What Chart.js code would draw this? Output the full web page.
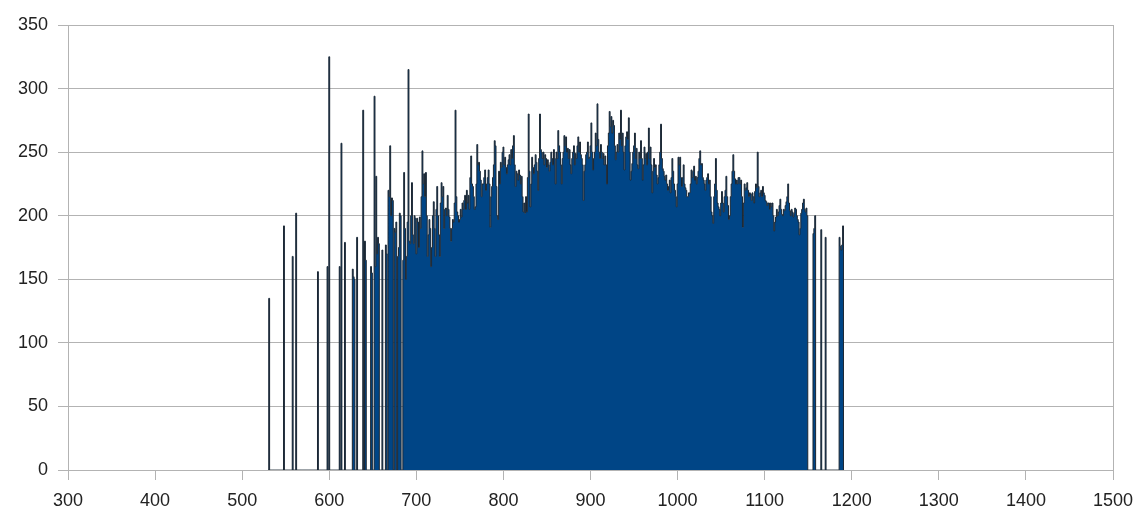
<!DOCTYPE html>
<html>
<head>
<meta charset="utf-8">
<script src="https://cdn.jsdelivr.net/npm/chart.js@4"></script>
<style>
  html, body { margin: 0; padding: 0; background: #fff; }
  #wrap { width: 1134px; height: 514px; position: relative; }
</style>
</head>
<body>
<div id="wrap"><canvas id="chart"></canvas></div>
<script>
// histogram counts, one per unit starting at firstBin
const firstBin = 530;
const counts = [
  0, 135, 0, 0, 0, 0, 0, 0, 0, 0,
  0, 0, 0, 0, 0, 0, 0, 0, 192, 0,
  0, 0, 0, 0, 0, 0, 0, 0, 168, 0,
  0, 0, 202, 0, 0, 0, 0, 0, 0, 0,
  0, 0, 0, 0, 0, 0, 0, 0, 0, 0,
  0, 0, 0, 0, 0, 0, 0, 156, 0, 0,
  0, 0, 0, 0, 0, 0, 0, 0, 160, 0,
  325, 0, 0, 0, 0, 0, 0, 0, 0, 0,
  0, 0, 160, 0, 257, 0, 0, 0, 179, 0,
  0, 0, 0, 0, 0, 0, 0, 158, 152, 150,
  0, 0, 183, 0, 0, 0, 0, 0, 0, 283,
  0, 180, 165, 0, 0, 0, 0, 0, 160, 155,
  0, 0, 294, 160, 231, 170, 183, 178, 0, 0,
  0, 173, 0, 0, 0, 177, 170, 0, 220, 215,
  255, 200, 214, 212, 0, 190, 187, 195, 0, 168,
  175, 202, 200, 0, 0, 165, 234, 190, 150, 168,
  195, 315, 180, 178, 200, 226, 185, 178, 200, 198,
  170, 198, 195, 175, 199, 190, 215, 251, 225, 233,
  215, 234, 200, 168, 185, 197, 190, 160, 175, 200,
  211, 190, 168, 205, 223, 200, 185, 168, 210, 226,
  215, 223, 190, 205, 206, 200, 216, 205, 199, 190,
  180, 190, 197, 195, 210, 283, 215, 203, 200, 195,
  197, 205, 199, 210, 205, 212, 216, 205, 220, 210,
  216, 205, 230, 247, 225, 223, 215, 205, 207, 225,
  256, 240, 242, 235, 228, 215, 225, 225, 230, 236,
  220, 225, 230, 236, 225, 191, 215, 223, 230, 240,
  259, 255, 223, 200, 197, 235, 225, 242, 238, 250,
  254, 240, 246, 238, 233, 240, 244, 248, 240, 252,
  245, 255, 263, 240, 223, 235, 233, 228, 236, 232,
  225, 231, 215, 203, 210, 202, 215, 203, 230, 280,
  235, 207, 225, 246, 238, 233, 240, 248, 242, 235,
  220, 245, 280, 252, 250, 245, 250, 240, 248, 245,
  238, 244, 240, 235, 242, 250, 245, 240, 252, 245,
  225, 250, 245, 267, 255, 250, 240, 225, 245, 250,
  263, 255, 262, 250, 253, 245, 252, 240, 233, 245,
  250, 255, 240, 249, 245, 255, 262, 250, 258, 248,
  245, 240, 212, 235, 240, 248, 250, 258, 245, 246,
  255, 273, 250, 236, 245, 250, 265, 255, 288, 260,
  250, 245, 256, 250, 245, 249, 240, 247, 240, 225,
  255, 265, 282, 270, 278, 265, 275, 271, 255, 244,
  250, 256, 250, 265, 260, 283, 255, 265, 250, 236,
  255, 262, 266, 260, 277, 250, 228, 235, 241, 250,
  255, 265, 245, 253, 240, 237, 250, 245, 259, 245,
  228, 240, 254, 245, 249, 240, 250, 269, 245, 254,
  240, 218, 235, 245, 238, 240, 232, 225, 230, 240,
  250, 272, 245, 237, 235, 231, 228, 232, 225, 220,
  223, 228, 218, 230, 245, 235, 225, 220, 215, 207,
  225, 246, 240, 246, 230, 223, 230, 240, 225, 222,
  220, 215, 215, 218, 218, 225, 236, 230, 235, 239,
  228, 231, 225, 230, 235, 245, 251, 240, 241, 230,
  228, 225, 220, 228, 230, 233, 225, 228, 215, 203,
  200, 194, 215, 225, 245, 220, 210, 207, 205, 200,
  210, 219, 210, 203, 215, 220, 231, 215, 208, 197,
  200, 215, 225, 235, 248, 235, 229, 225, 228, 225,
  230, 230, 225, 228, 215, 191, 210, 225, 220, 222,
  226, 220, 215, 218, 217, 212, 218, 215, 210, 219,
  225, 222, 250, 223, 215, 218, 220, 215, 223, 218,
  216, 212, 211, 208, 210, 210, 205, 210, 207, 210,
  200, 188, 195, 199, 205, 200, 203, 208, 213, 205,
  201, 200, 205, 204, 208, 211, 215, 225, 210, 204,
  200, 205, 203, 199, 202, 206, 205, 200, 197, 195,
  185, 190, 202, 205, 210, 213, 205, 203, 206, 200,
  0, 0, 0, 0, 0, 0, 186, 190, 200, 0,
  0, 0, 0, 0, 0, 189, 0, 0, 0, 0,
  183, 0, 0, 0, 0, 0, 0, 0, 0, 0,
  0, 0, 0, 0, 0, 0, 183, 176, 173, 177,
  192, 0
];

const xRange = [300, 1500];
const yRange = [0, 350];
const xStep = 100;
const yStep = 50;

const gridGray = '#b3b3b3';
const textColor = '#222';
const labelFont = { family: 'Liberation Sans, Arial, sans-serif', size: 18 };

const points = counts.map((c, i) => ({ x: firstBin + i, y: c }));

const ctx = document.getElementById('chart').getContext('2d');
new Chart(ctx, {
  type: 'line',
  data: {
    datasets: [
      {
        data: points,
        stepped: 'middle',
        fill: 'origin',
        backgroundColor: '#004586',
        borderColor: '#1b2733',
        borderWidth: 1,
        pointRadius: 0,
      },
    ],
  },
  options: {
    responsive: true,
    maintainAspectRatio: false,
    animation: false,
    layout: { padding: { top: 25, right: 21, left: 0, bottom: 0 } },
    plugins: { legend: { display: false }, tooltip: { enabled: false } },
    scales: {
      x: {
        type: 'linear',
        min: xRange[0],
        max: xRange[1],
        afterFit: (scale) => {
          scale.height = 44;
          // end labels may hang past the frame; keep the plot edges fixed
          scale.paddingLeft = 0;
          scale.paddingRight = 0;
        },
        ticks: {
          stepSize: xStep,
          color: textColor,
          font: labelFont,
          padding: 10,
          maxRotation: 0,
          callback: (v) => String(v),
        },
        grid: {
          // only the right-hand frame line reaches into the plot
          color: (c) => (c.tick && c.tick.value === xRange[1] ? gridGray : 'rgba(0,0,0,0)'),
          tickColor: gridGray,
          tickLength: 10,
        },
        border: { color: gridGray },
      },
      y: {
        min: yRange[0],
        max: yRange[1],
        afterFit: (scale) => { scale.width = 68; },
        ticks: { stepSize: yStep, color: textColor, font: labelFont, padding: 10, callback: (v) => String(v) },
        grid: { color: gridGray, tickColor: gridGray, tickLength: 10 },
        border: { color: gridGray },
      },
    },
  },
});
</script>
</body>
</html>
